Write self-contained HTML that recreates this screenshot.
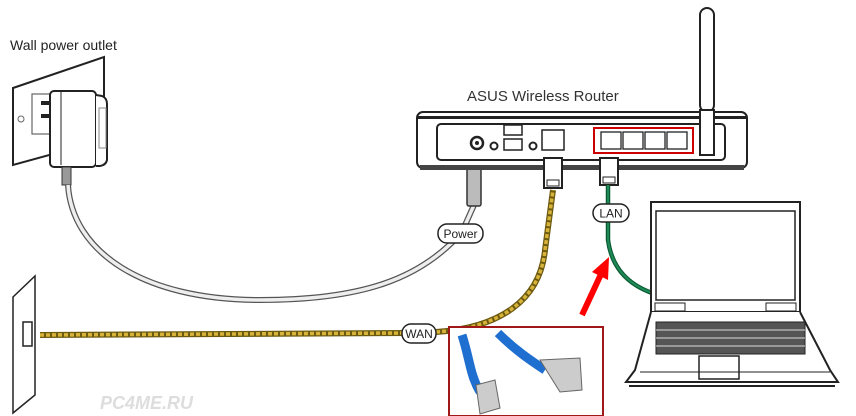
<!DOCTYPE html>
<html><head><meta charset="utf-8"><style>
html,body{margin:0;padding:0;background:#fff;width:856px;height:416px;overflow:hidden}
svg{display:block}
text{font-family:"Liberation Sans",Arial,sans-serif}
</style></head><body>
<svg width="856" height="416" viewBox="0 0 856 416" xmlns="http://www.w3.org/2000/svg">
<rect width="856" height="416" fill="#fff"/>
<!-- Wall power outlet -->
<text x="10" y="50" font-size="14" fill="#222">Wall power outlet</text>
<polygon points="13,88 104,57 104,140 13,165" fill="#fff" stroke="#222" stroke-width="2"/>
<rect x="32" y="94" width="24" height="40" fill="none" stroke="#666" stroke-width="1.2"/>
<rect x="41" y="101" width="10" height="4" fill="#222"/><rect x="41" y="114" width="10" height="4" fill="#222"/>
<circle cx="21" cy="119" r="3" fill="none" stroke="#666"/>
<rect x="50" y="91" width="46" height="76" rx="4" fill="#fff" stroke="#222" stroke-width="2"/>
<path d="M96,95 L102,96 Q107,98 107,104 L107,160 Q106,165 100,166 L96,166" fill="#fff" stroke="#222" stroke-width="2"/>
<rect x="99" y="108" width="7" height="40" fill="none" stroke="#888"/>
<line x1="61" y1="92" x2="61" y2="165" stroke="#222"/>
<rect x="62" y="167" width="9" height="18" fill="#999" stroke="#333"/>
<!-- power cable -->
<path d="M68,185 C72,250 140,300 260,300 C360,300 420,280 462,232" fill="none" stroke="#555" stroke-width="6"/>
<path d="M68,185 C72,250 140,300 260,300 C360,300 420,280 462,232" fill="none" stroke="#eee" stroke-width="3.5"/>
<path d="M462,232 L474,205" fill="none" stroke="#555" stroke-width="6"/>
<path d="M462,232 L474,205" fill="none" stroke="#eee" stroke-width="3.5"/>
<rect x="467" y="160" width="14" height="46" rx="2" fill="#bbb" stroke="#333" stroke-width="1.5"/>
<rect x="438" y="224" width="45" height="19" rx="9" fill="#fff" stroke="#222" stroke-width="1.5"/>
<text x="460.5" y="238" font-size="12" text-anchor="middle" fill="#222">Power</text>
<!-- Router -->
<text x="467" y="101" font-size="15" fill="#333">ASUS Wireless Router</text>
<rect x="700" y="8" width="14" height="104" rx="7" fill="#fff" stroke="#222" stroke-width="2"/>
<rect x="417" y="112" width="330" height="56" rx="6" fill="#fff" stroke="#222" stroke-width="2"/>
<rect x="417" y="116" width="330" height="3" fill="#222"/>
<rect x="420" y="165" width="324" height="5" fill="#444"/>
<rect x="437" y="124" width="288" height="36" rx="4" fill="#fff" stroke="#222" stroke-width="2"/>
<rect x="700" y="110" width="14" height="45" fill="#fff" stroke="#222" stroke-width="2"/>
<circle cx="477" cy="143" r="6" fill="#fff" stroke="#222" stroke-width="2.5"/><circle cx="477" cy="143" r="2" fill="#222"/>
<circle cx="494" cy="146" r="3.5" fill="none" stroke="#222" stroke-width="2"/>
<rect x="504" y="125" width="18" height="10" fill="none" stroke="#222" stroke-width="1.5"/>
<rect x="504" y="139" width="18" height="11" fill="none" stroke="#222" stroke-width="1.5"/>
<circle cx="533" cy="146" r="3.5" fill="none" stroke="#222" stroke-width="2"/>
<rect x="542" y="130" width="22" height="20" fill="none" stroke="#222" stroke-width="1.5"/>
<rect x="594" y="128" width="99" height="25" fill="none" stroke="#c00" stroke-width="2"/>
<g fill="none" stroke="#222" stroke-width="1.3">
<rect x="601" y="132" width="20" height="17"/><rect x="623" y="132" width="20" height="17"/><rect x="645" y="132" width="20" height="17"/><rect x="667" y="132" width="20" height="17"/>
</g>
<!-- WAN / LAN plugs -->
<rect x="544" y="158" width="18" height="30" fill="#fff" stroke="#222" stroke-width="2"/>
<rect x="547" y="180" width="12" height="6" fill="#fff" stroke="#222"/>
<rect x="600" y="158" width="18" height="27" fill="#fff" stroke="#222" stroke-width="2"/>
<rect x="603" y="177" width="12" height="6" fill="#fff" stroke="#222"/>
<!-- WAN cable -->
<path d="M40,335 L410,333 M436,332 C500,328 540,300 545,250 L553,190" fill="none" stroke="#6b5a10" stroke-width="6"/>
<path d="M40,335 L410,333 M436,332 C500,328 540,300 545,250 L553,190" fill="none" stroke="#d8b33a" stroke-width="3.5" stroke-dasharray="4 2"/>
<rect x="402" y="324" width="34" height="19" rx="9" fill="#fff" stroke="#222" stroke-width="1.5"/>
<text x="419" y="338" font-size="12" text-anchor="middle" fill="#222">WAN</text>
<!-- wall jack -->
<polygon points="13,297 35,276 35,395 13,413" fill="#fff" stroke="#222" stroke-width="1.5"/>
<rect x="23" y="322" width="9" height="24" fill="#fff" stroke="#222" stroke-width="1.5"/>
<!-- LAN cable -->
<path d="M608,185 L608,240 C612,270 630,285 652,293" fill="none" stroke="#0b5c35" stroke-width="4.5"/>
<path d="M608,185 L608,240 C612,270 630,285 652,293" fill="none" stroke="#1f8a55" stroke-width="2"/>
<rect x="593" y="204" width="36" height="18" rx="9" fill="#fff" stroke="#222" stroke-width="1.5"/>
<text x="611" y="217.5" font-size="12" text-anchor="middle" fill="#222">LAN</text>
<!-- red arrow -->
<line x1="582" y1="315" x2="602" y2="272" stroke="#f00" stroke-width="6"/>
<polygon points="609,257 592,272 608,280" fill="#f00"/>
<!-- inset -->
<rect x="449" y="327" width="154" height="89" fill="#fff" stroke="#a01818" stroke-width="2"/>
<path d="M462,335 C470,360 470,375 480,392" stroke="#1e6fd0" stroke-width="9" fill="none"/>
<path d="M498,333 C515,350 530,360 545,370" stroke="#1e6fd0" stroke-width="9" fill="none"/>
<polygon points="476,385 495,380 500,408 480,414" fill="#ccc" stroke="#666"/>
<polygon points="540,360 580,358 582,390 560,392" fill="#ccc" stroke="#666"/>
<!-- laptop -->
<rect x="651" y="202" width="149" height="110" fill="#fff" stroke="#222" stroke-width="2"/>
<rect x="656" y="211" width="139" height="89" fill="#fff" stroke="#222" stroke-width="1.5"/>
<path d="M651,312 L635,370 L626,382 L838,382 L830,370 L800,312" fill="#fff" stroke="#222" stroke-width="2"/>
<path d="M629,386 L835,386" stroke="#222" stroke-width="2"/>
<line x1="640" y1="372" x2="830" y2="372" stroke="#222"/>
<rect x="656" y="322" width="149" height="32" fill="#555" stroke="#222"/>
<g stroke="#ddd" stroke-width="1"><line x1="656" y1="330" x2="805" y2="330"/><line x1="656" y1="338" x2="805" y2="338"/><line x1="656" y1="346" x2="805" y2="346"/></g>
<rect x="699" y="356" width="40" height="23" fill="#fff" stroke="#222" stroke-width="1.5"/>
<line x1="699" y1="372" x2="739" y2="372" stroke="#222"/>
<rect x="655" y="303" width="30" height="8" fill="#fff" stroke="#222"/>
<rect x="766" y="303" width="30" height="8" fill="#fff" stroke="#222"/>
<!-- watermark -->
<text x="100" y="409" font-size="18" font-weight="bold" font-style="italic" fill="#ddd">PC4ME.RU</text>
</svg>
</body></html>
